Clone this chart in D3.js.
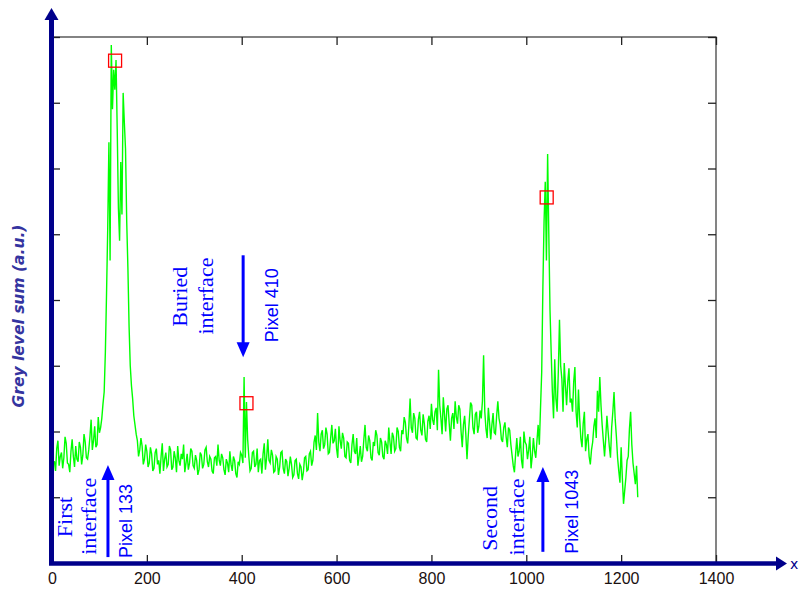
<!DOCTYPE html>
<html>
<head>
<meta charset="utf-8">
<script src="https://cdn.jsdelivr.net/npm/d3@7"></script>
<style>
  body { margin: 0; background: #fff; }
  svg { display: block; }
</style>
</head>
<body>
<div id="chart"></div>
<script>
// grey level profile, one value every 2.5 pixels starting at pixel 5
var pixelStart = 5;
var pixelStep = 2.5;
var greyLevel = [
  1.55, 1.40, 1.74, 1.86, 1.48, 1.62, 1.68, 1.44, 1.60, 1.92, 1.82, 1.52, 1.50, 1.38, 1.70, 1.88, 1.62, 1.46, 1.78, 1.58,   // 5-52.5
  1.54, 1.84, 1.76, 1.50, 1.64, 1.96, 1.84, 1.60, 1.58, 1.72, 1.92, 2.18, 1.72, 1.86, 2.08, 1.76, 1.80, 2.22, 1.98, 2.06,   // 55-102.5
  2.20, 2.42, 2.60, 3.20, 4.10, 5.10, 6.40, 4.60, 7.88, 6.90, 7.50, 7.20, 7.65, 6.60, 5.40, 4.90, 6.10, 5.30, 7.15, 6.70,   // 105-152.5
  6.30, 5.20, 4.50, 3.60, 3.00, 2.70, 2.50, 2.24, 2.10, 1.96, 1.86, 1.62, 1.72, 1.90, 1.78, 1.50, 1.58, 1.80, 1.70, 1.46,   // 155-202.5
  1.52, 1.76, 1.66, 1.40, 1.44, 1.68, 1.74, 1.50, 1.56, 1.36, 1.62, 1.82, 1.40, 1.58, 1.68, 1.46, 1.50, 1.78, 1.72, 1.42,   // 205-252.5
  1.46, 1.70, 1.60, 1.38, 1.78, 1.56, 1.48, 1.66, 1.58, 1.80, 1.38, 1.52, 1.66, 1.42, 1.52, 1.74, 1.70, 1.48, 1.44, 1.64,   // 255-302.5
  1.56, 1.34, 1.42, 1.68, 1.64, 1.44, 1.50, 1.72, 1.76, 1.54, 1.46, 1.62, 1.58, 1.40, 1.36, 1.60, 1.62, 1.48, 1.80, 1.56,   // 305-352.5
  1.48, 1.66, 1.60, 1.42, 1.34, 1.58, 1.52, 1.38, 1.70, 1.50, 1.40, 1.62, 1.56, 1.36, 1.30, 1.54, 1.50, 1.68, 1.64, 1.52,   // 355-402.5
  2.83, 1.60, 2.45, 1.88, 1.62, 1.40, 1.44, 1.68, 1.70, 1.46, 1.50, 1.74, 1.38, 1.56, 1.58, 1.36, 1.66, 1.82, 1.42, 1.60,   // 405-452.5
  1.88, 1.56, 1.52, 1.72, 1.64, 1.38, 1.40, 1.62, 1.58, 1.34, 1.46, 1.68, 1.70, 1.44, 1.36, 1.58, 1.54, 1.32, 1.44, 1.62,   // 455-502.5
  1.50, 1.30, 1.34, 1.56, 1.58, 1.36, 1.28, 1.50, 1.46, 1.26, 1.38, 1.60, 1.62, 1.40, 1.42, 1.66, 1.70, 1.48, 1.56, 1.84,   // 505-552.5
  1.94, 1.72, 2.28, 1.84, 1.70, 1.96, 2.02, 1.74, 1.80, 2.06, 1.96, 1.66, 1.68, 1.90, 2.10, 1.82, 1.86, 2.04, 1.74, 1.60,   // 555-602.5
  2.08, 1.86, 1.74, 1.98, 1.90, 1.62, 1.60, 1.84, 1.82, 1.56, 1.52, 1.80, 1.96, 1.70, 1.66, 1.90, 1.48, 1.62, 1.78, 1.54,   // 605-652.5
  1.62, 1.88, 2.10, 1.76, 1.70, 1.94, 1.86, 1.60, 1.56, 1.84, 1.78, 2.02, 1.94, 1.68, 1.64, 1.90, 1.84, 1.62, 1.58, 1.86,   // 655-702.5
  1.80, 1.66, 2.06, 1.84, 1.66, 1.98, 1.92, 1.70, 1.74, 2.06, 2.00, 1.76, 1.70, 2.02, 1.96, 2.22, 2.14, 1.90, 1.82, 2.10,   // 705-752.5
  2.50, 2.06, 1.98, 2.28, 2.20, 1.90, 1.88, 2.18, 2.30, 2.02, 1.94, 2.26, 2.12, 1.88, 1.84, 2.16, 2.24, 2.04, 2.42, 2.18,   // 755-802.5
  2.10, 2.30, 2.36, 2.02, 2.94, 2.40, 2.20, 1.96, 2.52, 2.26, 2.00, 2.34, 2.40, 2.12, 1.86, 2.20, 2.28, 2.04, 2.46, 2.22,   // 805-852.5
  2.12, 2.40, 2.34, 2.00, 1.76, 2.10, 2.24, 1.96, 1.58, 1.92, 2.18, 2.44, 2.40, 2.06, 1.96, 2.26, 2.30, 1.98, 2.08, 2.32,   // 855-902.5
  2.20, 2.46, 3.16, 2.30, 2.04, 1.90, 2.36, 2.14, 1.88, 2.10, 2.28, 1.98, 1.96, 2.24, 2.46, 2.20, 2.10, 1.88, 1.84, 2.06,   // 905-952.5
  2.14, 1.92, 1.76, 2.06, 2.02, 1.80, 1.64, 1.48, 1.38, 1.66, 1.90, 1.62, 1.70, 1.92, 1.56, 1.44, 2.00, 1.84, 1.80, 1.58,   // 955-1002.5
  1.72, 1.92, 1.44, 1.62, 1.90, 1.70, 1.60, 1.86, 2.10, 1.80, 2.36, 2.90, 4.20, 5.20, 5.80, 4.60, 6.22, 5.00, 3.85, 3.20,   // 1005-1052.5
  2.60, 2.20, 3.10, 2.50, 2.30, 2.90, 3.70, 3.00, 2.80, 2.30, 3.04, 2.70, 2.40, 2.76, 2.96, 2.44, 2.50, 2.30, 2.76, 2.98,   // 1055-1102.5
  2.30, 2.06, 2.64, 2.20, 1.90, 1.76, 2.12, 2.30, 1.70, 1.88, 1.96, 1.62, 1.50, 1.72, 1.84, 2.08, 2.20, 1.90, 2.62, 2.30,   // 1105-1152.5
  2.83, 2.40, 2.10, 1.86, 1.62, 1.90, 2.24, 2.00, 1.78, 1.60, 2.06, 2.30, 2.60, 2.18, 1.92, 1.60, 1.40, 1.22, 1.76, 1.30,   // 1155-1202.5
  0.90, 1.10, 1.30, 1.56, 1.62, 2.04, 2.30, 1.80, 1.52, 1.36, 1.20, 1.48, 1.00                                              // 1205-1235
];

// marked peaks
var peakPixel = [133, 410, 1043];
var peakLevel = [7.64, 2.43, 5.56];

var xTicks = [0, 200, 400, 600, 800, 1000, 1200, 1400];
var yTicks = [0, 1, 2, 3, 4, 5, 6, 7, 8];

// annotations (data units)
var arrowX = [118, 403, 1035];
var arrowFrom = [0.09, 4.68, 0.17];
var arrowTo = [1.49, 3.13, 1.46];

var noteText = ["First", "interface", "Pixel 133", "Buried", "interface", "Pixel 410", "Second", "interface", "Pixel 1043"];
var noteX = [27, 78, 155, 269, 323, 463, 923, 980, 1097];
var noteY = [0.70, 0.71, 0.64, 4.05, 4.06, 3.92, 0.68, 0.70, 0.78];
var noteSerif = [true, true, false, true, true, false, true, true, false];

var svgWidth = 799;
var svgHeight = 590;
var margin = { top: 37, right: 83, bottom: 27, left: 52 };
var width = svgWidth - margin.left - margin.right;
var height = svgHeight - margin.top - margin.bottom;

var svg = d3.select("#chart")
  .append("svg")
  .attr("width", svgWidth)
  .attr("height", svgHeight);

var xScale = d3.scaleLinear().domain([0, 1400]).range([margin.left, margin.left + width]);
var yScale = d3.scaleLinear().domain([0, 8]).range([margin.top + height, margin.top]);

var axisColor = "#00008b";
var blue = "#0000ff";

// box
svg.append("rect")
  .attr("x", xScale(0))
  .attr("y", yScale(8))
  .attr("width", xScale(1400) - xScale(0))
  .attr("height", yScale(0) - yScale(8))
  .attr("fill", "none")
  .attr("stroke", "#333")
  .attr("stroke-width", 1.2);

// ticks on all four sides, pointing inward
var bottomAxis = svg.append("g")
  .attr("transform", `translate(0, ${yScale(0)})`)
  .call(d3.axisBottom(xScale).tickValues(xTicks).tickSizeInner(-8).tickSizeOuter(0).tickPadding(10).tickFormat(d3.format("d")));
bottomAxis.selectAll("text")
  .attr("font-family", "Liberation Sans, Arial, sans-serif")
  .attr("font-size", "16px")
  .attr("fill", "#1a1010");

svg.append("g")
  .attr("transform", `translate(0, ${yScale(8)})`)
  .call(d3.axisTop(xScale).tickValues(xTicks).tickSizeInner(-8).tickSizeOuter(0).tickFormat(""));

svg.append("g")
  .attr("transform", `translate(${xScale(0)}, 0)`)
  .call(d3.axisLeft(yScale).tickValues(yTicks).tickSizeInner(-8).tickSizeOuter(0).tickFormat(""));

svg.append("g")
  .attr("transform", `translate(${xScale(1400)}, 0)`)
  .call(d3.axisRight(yScale).tickValues(yTicks).tickSizeInner(-8).tickSizeOuter(0).tickFormat(""));

svg.selectAll(".domain").remove();
svg.selectAll(".tick line").attr("stroke", "#222").attr("stroke-width", 1.3);

// signal
var profile = greyLevel.map((v, i) => ({ pixel: pixelStart + i * pixelStep, value: v }));

svg.append("path")
  .datum(profile)
  .attr("fill", "none")
  .attr("stroke", "#00ff00")
  .attr("stroke-width", 1.4)
  .attr("d", d3.line().x(d => xScale(d.pixel)).y(d => yScale(d.value)));

// red markers
svg.selectAll(".peak")
  .data(peakPixel)
  .enter()
  .append("rect")
  .attr("class", "peak")
  .attr("x", d => xScale(d) - 6.5)
  .attr("y", (d, i) => yScale(peakLevel[i]) - 6.5)
  .attr("width", 13)
  .attr("height", 13)
  .attr("fill", "none")
  .attr("stroke", "#ff0000")
  .attr("stroke-width", 1.3);

// blue main axes with arrows
var axisLeftX = xScale(0) - 0.5;
svg.append("line")
  .attr("x1", axisLeftX).attr("x2", axisLeftX)
  .attr("y1", yScale(0) + 2).attr("y2", 18)
  .attr("stroke", axisColor).attr("stroke-width", 5);
svg.append("path")
  .attr("d", `M${axisLeftX},8 L${axisLeftX - 7},20 L${axisLeftX + 7},20 Z`)
  .attr("fill", axisColor);

var axisBottomY = yScale(0) + 0.5;
svg.append("line")
  .attr("x1", axisLeftX - 2.5).attr("x2", 778)
  .attr("y1", axisBottomY).attr("y2", axisBottomY)
  .attr("stroke", axisColor).attr("stroke-width", 4.5);
svg.append("path")
  .attr("d", `M787,${axisBottomY} L776,${axisBottomY - 7} L776,${axisBottomY + 7} Z`)
  .attr("fill", axisColor);

svg.append("text")
  .attr("x", 790)
  .attr("y", axisBottomY + 5)
  .attr("font-family", "DejaVu Sans, sans-serif")
  .attr("font-size", "14px")
  .attr("fill", axisColor)
  .text("x");

// y label
svg.append("text")
  .attr("transform", "translate(19, 316) rotate(-90)")
  .attr("text-anchor", "middle")
  .attr("dominant-baseline", "central")
  .attr("font-family", "DejaVu Sans, sans-serif")
  .attr("font-style", "italic")
  .attr("font-weight", "bold")
  .attr("font-size", "15.5px")
  .attr("fill", "#3434a0")
  .text("Grey level sum (a.u.)");

// annotation arrows
arrowX.forEach(function(ax, i) {
  var x0 = xScale(ax);
  var yFrom = yScale(arrowFrom[i]);
  var yTo = yScale(arrowTo[i]);
  var dir = yTo < yFrom ? 1 : -1;
  svg.append("line")
    .attr("x1", x0).attr("x2", x0)
    .attr("y1", yFrom).attr("y2", yTo + dir * 12)
    .attr("stroke", blue).attr("stroke-width", 3);
  svg.append("path")
    .attr("d", `M${x0},${yTo} L${x0 - 6.5},${yTo + dir * 15} L${x0 + 6.5},${yTo + dir * 15} Z`)
    .attr("fill", blue);
});

// annotation texts
noteText.forEach(function(t, i) {
  svg.append("text")
    .attr("transform", `translate(${xScale(noteX[i])}, ${yScale(noteY[i])}) rotate(-90)`)
    .attr("text-anchor", "middle")
    .attr("dominant-baseline", "central")
    .attr("font-family", noteSerif[i] ? "Liberation Serif, Times New Roman, serif" : "Liberation Sans, Arial, sans-serif")
    .attr("font-size", noteSerif[i] ? "22px" : "18px")
    .attr("fill", blue)
    .text(t);
});
</script>
</body>
</html>
